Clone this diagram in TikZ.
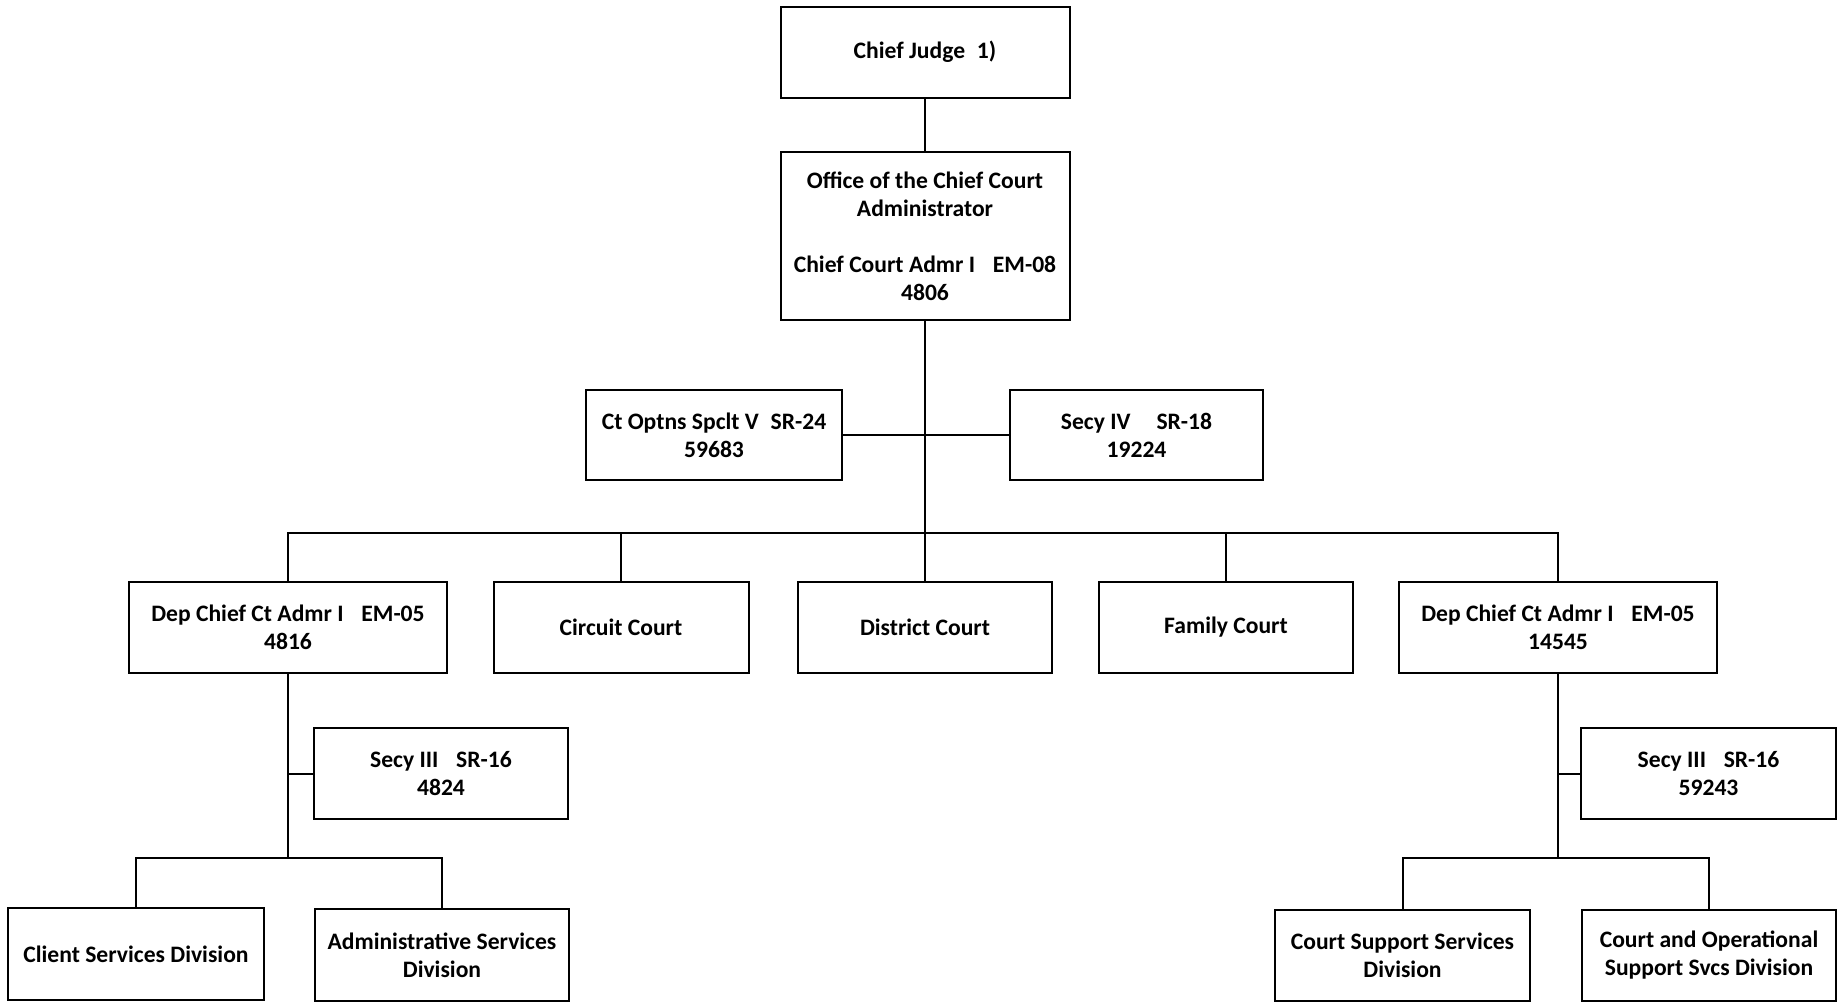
\documentclass[tikz,border=0pt]{standalone}
\usepackage{fontspec}
\setmainfont{Carlito}
\begin{document}
\begin{tikzpicture}[x=0.5pt,y=-0.5pt,
  bx/.style 2 args={draw, line width=1pt, minimum width=#1*0.5pt, minimum height=#2*0.5pt,
    inner sep=0pt, align=center, font=\fontsize{11.8pt}{14pt}\selectfont\bfseries},
  ln/.style={line width=1pt}]
\useasboundingbox (0,0) rectangle (1839,1003);
% top
\node[bx={289}{91}] (cj) at (925,52) {Chief Judge\hspace{0.5em}1)};
\node[bx={289}{168}] (oca) at (925,236) {Office of the Chief Court\\Administrator\\[14pt]Chief Court Admr I\hspace{0.75em}EM-08\\4806};
\node[bx={256}{90}] (cos) at (714,435) {Ct Optns Spclt V\hspace{0.5em}SR-24\\59683};
\node[bx={253}{90}] (s4) at (1136.5,435) {Secy IV\hspace{1.1em}SR-18\\19224};
\coordinate (bus) at (925,533);
% level 3
\node[bx={318}{91}] (dl) at (288,627.5) {Dep Chief Ct Admr I\hspace{0.75em}EM-05\\4816};
\node[bx={255}{91}] (cc) at (621,627.5) {Circuit Court};
\node[bx={254}{91}] (dc) at (925,627.5) {District Court};
\node[bx={254}{91}] (fc) at (1226,627.5) {Family Court};
\node[bx={318}{91}] (dr) at (1558,627.5) {Dep Chief Ct Admr I\hspace{0.75em}EM-05\\14545};
% left branch
\node[bx={254}{91}] (s3l) at (441,773.5) {Secy III\hspace{0.75em}SR-16\\4824};
\coordinate (lbus) at (288,858);
\node[bx={256}{92}] (csd) at (136,954) {Client Services Division};
\node[bx={254}{92}] (asd) at (442,955) {Administrative Services\\Division};
% right branch
\node[bx={255}{91}] (s3r) at (1708.5,773.5) {Secy III\hspace{0.75em}SR-16\\59243};
\coordinate (rbus) at (1558,858);
\node[bx={255}{91}] (css) at (1402.5,955.5) {Court Support Services\\Division};
\node[bx={254}{91}] (cop) at (1709,955.5) {Court and Operational\\Support Svcs Division};
% connectors
\draw[ln] (cj) -- (oca);
\draw[ln] (oca.south) -- (bus);
\draw[ln] (cos.east) -- (s4.west);
\draw[ln] (dl.north) |- (bus) -| (dr.north);
\draw[ln] (cc.north) -- (cc.north |- bus);
\draw[ln] (dc.north) -- (bus);
\draw[ln] (fc.north) -- (fc.north |- bus);
\draw[ln] (dl.south) -- (lbus);
\draw[ln] (s3l.west) -- (s3l.west -| dl.south);
\draw[ln] (csd.north) |- (lbus) -| (asd.north);
\draw[ln] (dr.south) -- (rbus);
\draw[ln] (s3r.west) -- (s3r.west -| dr.south);
\draw[ln] (css.north) |- (rbus) -| (cop.north);
\end{tikzpicture}
\end{document}
